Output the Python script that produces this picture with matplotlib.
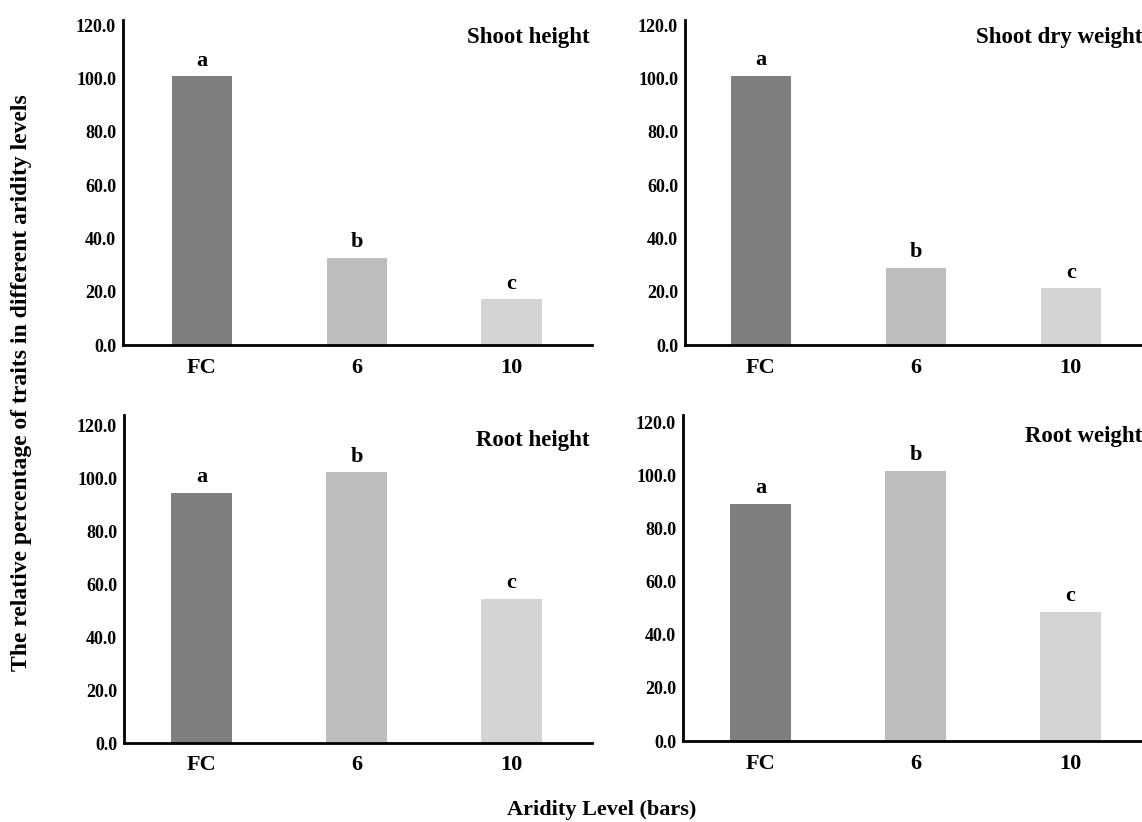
import matplotlib.pyplot as plt
import numpy as np

plt.rcParams['font.family'] = ['Liberation Serif', 'DejaVu Serif']
plt.rcParams['font.weight'] = 'bold'

niveles = ['FC', '6', '10']
colores = ['#7f7f7f', '#bdbdbd', '#d3d3d3']

shoot_height = [100.8, 32.7, 17.1]
shoot_dry_weight = [101.0, 28.9, 21.3]
root_height = [94.5, 102.3, 54.5]
root_weight = [89.4, 101.9, 48.7]
letras = ['a', 'b', 'c']

titulos = ['Shoot height', 'Shoot dry weight', 'Root height', 'Root weight']
datos = [shoot_height, shoot_dry_weight, root_height, root_weight]

# posiciones de los ejes en fraccion de figura (px / tamano figura)
W, H = 1142.0, 822.0
pos = [[123/W, 1-345/H, (592-123)/W, (345-20)/H],
       [685/W, 1-345/H, (1142-685)/W, (345-20)/H],
       [124/W, 1-743/H, (592-124)/W, (743-415)/H],
       [683/W, 1-741/H, (1142-683)/W, (741-415)/H]]
xlims = [(-0.51, 2.52), (-0.49, 2.46), (-0.50, 2.52), (-0.50, 2.46)]
ylims = [122, 122, 124, 123]
titulo_y = [0.98, 0.98, 0.955, 0.965]

fig = plt.figure(figsize=(11.42, 8.22), dpi=100)

for i in range(4):
    ax = fig.add_axes(pos[i])
    x = np.arange(len(niveles))
    ax.bar(x, datos[i], width=0.39, color=colores)
    for j in range(len(x)):
        ax.annotate(letras[j], (x[j], datos[i][j]), xytext=(0, 4), textcoords='offset points',
                    ha='center', va='bottom', fontsize=16, fontweight='bold')
    ax.set_xlim(xlims[i])
    ax.set_ylim(0, ylims[i])
    ax.set_yticks([0, 20, 40, 60, 80, 100, 120])
    ax.set_yticklabels(['0.0', '20.0', '40.0', '60.0', '80.0', '100.0', '120.0'], fontsize=13, fontweight='bold')
    ax.set_xticks(x)
    ax.set_xticklabels(niveles, fontsize=16, fontweight='bold')
    ax.tick_params(axis='both', length=0)
    ax.tick_params(axis='x', pad=9)
    ax.tick_params(axis='y', pad=5)
    ax.spines['top'].set_visible(False)
    ax.spines['right'].set_visible(False)
    ax.spines['left'].set_linewidth(2)
    ax.spines['bottom'].set_linewidth(2)
    ax.text(0.995 if i % 2 == 0 else 1.0, titulo_y[i], titulos[i], transform=ax.transAxes, ha='right', va='top',
            fontsize=16.5, fontweight='bold')

fig.text(0.019, 0.535, 'The relative percentage of traits in different aridity levels',
         rotation=90, ha='center', va='center', fontsize=17, fontweight='bold')
fig.text(0.527, 0.014, 'Aridity Level (bars)', ha='center', va='center', fontsize=16, fontweight='bold')

plt.savefig('out.png', dpi=100)
